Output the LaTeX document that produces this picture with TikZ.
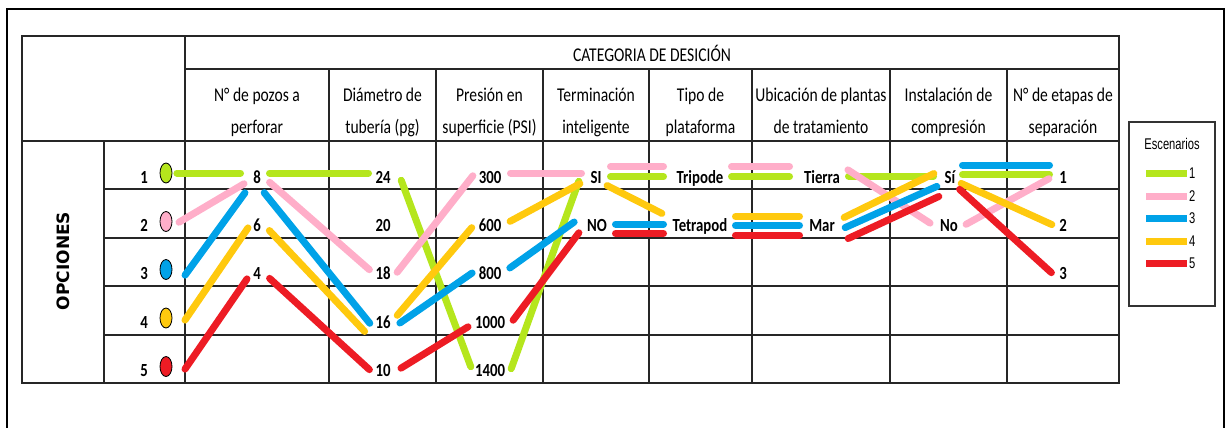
\documentclass[tikz,border=0pt]{standalone}
\usepackage{fontspec}
\setmainfont[FakeStretch=0.8]{Carlito}
\newfontfamily\opcfont{DejaVu Sans}
\newfontfamily\legfont[FakeStretch=0.72]{Liberation Sans}
\usetikzlibrary{calc,shapes.geometric}
\definecolor{cA}{HTML}{B5E61D}
\definecolor{cB}{HTML}{FFAEC9}
\definecolor{cC}{HTML}{00A2E8}
\definecolor{cD}{HTML}{FFC90E}
\definecolor{cE}{HTML}{ED1C24}
\newcommand\cnx[5]{\draw[#1] ($(#2)+(#3)$) -- ($(#4)+(#5)$);}
\begin{document}
\begin{tikzpicture}[x=1pt,y=-1pt,
  grid/.style={line width=1.2pt,black!85},
  val/.style={font=\fontsize{18.5}{20}\selectfont\bfseries,inner sep=0pt,anchor=base},
  hdr/.style={font=\fontsize{19.5}{22}\selectfont,inner sep=0pt,anchor=base},
  con/.style={line width=7pt,line cap=round,shorten <=3.5pt,shorten >=3.5pt},
  ga/.style={con,draw=cA}, gb/.style={con,draw=cB}, gc/.style={con,draw=cC},
  gd/.style={con,draw=cD}, ge/.style={con,draw=cE},
  ell/.style={ellipse,draw=black,line width=0.8pt,minimum width=12pt,minimum height=20pt,inner sep=0pt},
  leg/.style={font=\legfont\fontsize{15.5}{17}\selectfont,inner sep=0pt},
  legline/.style={line width=7pt}]
\useasboundingbox (0,0) rectangle (1226,428);
% outer frame
\draw[line width=1.2pt] (7,428) -- (7,9) -- (1224,9) -- (1224,428);
% table grid
\draw[line width=1.5pt,black!85] (22,36) rectangle (1119,383);
\draw[grid] (185,36) -- (185,383);
\draw[grid] (185,69) -- (1119,69);
\draw[grid] (22,141) -- (1119,141);
\draw[grid] (104,141) -- (104,383);
\foreach \yy in {189,238,286,335} {\draw[grid] (104,\yy) -- (1119,\yy);}
\foreach \xx in {329,436,543,649,752,890,1007} {\draw[grid] (\xx,69) -- (\xx,383);}
% headers
\node[hdr] (cat) at (652,61.5) {CATEGORIA DE DESICIÓN};
\node[hdr] (h1a) at (257,101.7) {N° de pozos a};
\node[hdr] (h1b) at (257,133.5) {perforar};
\node[hdr] (h2a) at (382.5,101.7) {Diámetro de};
\node[hdr] (h2b) at (382.5,133.5) {tubería (pg)};
\node[hdr] (h3a) at (489.5,101.7) {Presión en};
\node[hdr] (h3b) at (489.5,133.5) {superficie (PSI)};
\node[hdr] (h4a) at (596,101.7) {Terminación};
\node[hdr] (h4b) at (596,133.5) {inteligente};
\node[hdr] (h5a) at (700.5,101.7) {Tipo de};
\node[hdr] (h5b) at (700.5,133.5) {plataforma};
\node[hdr] (h6a) at (821,101.7) {Ubicación de plantas};
\node[hdr] (h6b) at (821,133.5) {de tratamiento};
\node[hdr] (h7a) at (948.5,101.7) {Instalación de};
\node[hdr] (h7b) at (948.5,133.5) {compresión};
\node[hdr] (h8a) at (1063,101.7) {N° de etapas de};
\node[hdr] (h8b) at (1063,133.5) {separación};
% options
\node[rotate=90,font=\opcfont\bfseries\fontsize{17}{19}\selectfont,inner sep=0pt] (opc) at (63,261) {OPCIONES};
\node[val] (o1) at (144,183) {1};
\node[val] (o2) at (144,231.5) {2};
\node[val] (o3) at (144,279.5) {3};
\node[val] (o4) at (144,328) {4};
\node[val] (o5) at (144,376.5) {5};
\node[ell,fill=cA] (e1) at (166,173) {};
\node[ell,fill=cB] (e2) at (166,221.5) {};
\node[ell,fill=cC] (e3) at (166,269.5) {};
\node[ell,fill=cD] (e4) at (166,318) {};
\node[ell,fill=cE] (e5) at (166,366.5) {};
% values
\node[val] (p8) at (257,183) {8};
\node[val] (p6) at (257,231.5) {6};
\node[val] (p4) at (257,279.5) {4};
\node[val] (d24) at (383,183) {24};
\node[val] (d20) at (383,231.5) {20};
\node[val] (d18) at (383,279.5) {18};
\node[val] (d16) at (383,328) {16};
\node[val] (d10) at (383,376.5) {10};
\node[val] (s300) at (490,183) {300};
\node[val] (s600) at (490,231.5) {600};
\node[val] (s800) at (490,279.5) {800};
\node[val] (s1000) at (490,328) {1000};
\node[val] (s1400) at (490,376.5) {1400};
\node[val] (tSI) at (596,183) {SI};
\node[val] (tNO) at (597,231.5) {NO};
\node[val] (pTri) at (700,183) {Tripode};
\node[val] (pTet) at (700,231.5) {Tetrapod};
\node[val] (uTie) at (822,183) {Tierra};
\node[val] (uMar) at (822,231.5) {Mar};
\node[val] (iSi) at (950,183) {Sí};
\node[val] (iNo) at (949,231.5) {No};
\node[val] (n1) at (1063,183) {1};
\node[val] (n2) at (1063,231.5) {2};
\node[val] (n3) at (1063,279.5) {3};
% scenario 1 (green)
\cnx{ga}{e1.east}{1,0}{p8.base}{-13,-10}
\cnx{ga}{p8.base}{9,-10}{d24.base}{-11,-10}
\cnx{ga}{d24.base}{17,-6}{s1400.base}{-18,-6.5}
\cnx{ga}{s1400.base}{20,-4.5}{tSI.base}{-16,-5}
\cnx{ga}{tSI.base}{11,-6.3}{pTri.base}{-33,-6.3}
\cnx{ga}{pTri.base}{28,-6.3}{uTie.base}{-29,-6.3}
\cnx{ga}{uTie.base}{23,-7}{iSi.base}{-13,-7}
\cnx{ga}{iSi.base}{9,-8.5}{n1.base}{-10,-8.5}
% scenario 2 (pink)
\cnx{gb}{e2.center}{10,2.5}{p8.base}{-10,-1}
\cnx{gb}{p8.base}{10,-3}{d18.base}{-11,-7.5}
\cnx{gb}{d18.base}{12,-4.5}{s300.base}{-15,-10}
\cnx{gb}{s300.base}{17,-10}{tSI.base}{-11,-10}
\cnx{gb}{tSI.base}{11,-16.3}{pTri.base}{-33,-16.3}
\cnx{gb}{pTri.base}{28,-16.3}{uTie.base}{-29,-16.3}
\cnx{gb}{uTie.base}{23,-15}{iNo.base}{-16,-6.5}
\cnx{gb}{iNo.base}{14,-5.5}{n1.base}{-11,-6}
% scenario 3 (blue)
\cnx{gc}{e3.center}{17,8.5}{p8.base}{-10,7}
\cnx{gc}{p8.base}{5,7}{d16.base}{-11,-2}
\cnx{gc}{d16.base}{14,-3}{s800.base}{-15,-8.5}
\cnx{gc}{s800.base}{17,-9.5}{tNO.base}{-20,-11.5}
\cnx{gc}{tNO.base}{15,-7.5}{pTet.base}{-33,-7.5}
\cnx{gc}{pTet.base}{32,-6}{uMar.base}{-19,-6}
\cnx{gc}{uMar.base}{20,-2.5}{iSi.base}{-10,2}
\cnx{gc}{iSi.base}{9,-18}{n1.base}{-10,-18}
% scenario 4 (yellow)
\cnx{gd}{e4.center}{17,5}{p6.base}{-7,-6.5}
\cnx{gd}{p6.base}{10,-3.5}{d16.base}{-16,6}
\cnx{gd}{d16.base}{12,-10}{s600.base}{-16,-6.5}
\cnx{gd}{s600.base}{17,-8.5}{tSI.base}{-13,-1}
\cnx{gd}{tSI.base}{8,1}{pTet.base}{-35,-16.5}
\cnx{gd}{pTet.base}{32,-15}{uMar.base}{-19,-15}
\cnx{gd}{uMar.base}{19,-12.5}{iSi.base}{-13,-11}
\cnx{gd}{iSi.base}{8,-1}{n2.base}{-8,-5.5}
% scenario 5 (red)
\cnx{ge}{e5.center}{17,5.5}{p4.base}{-8,-3.5}
\cnx{ge}{p4.base}{10,-3.5}{d10.base}{-11,-4.5}
\cnx{ge}{d10.base}{15,-6.5}{s1000.base}{-19,-3}
\cnx{ge}{s1000.base}{21,-5}{tNO.base}{-16,-1.5}
\cnx{ge}{tNO.base}{15,2}{pTet.base}{-33,2}
\cnx{ge}{pTet.base}{32,3.5}{uMar.base}{-19,3.5}
\cnx{ge}{uMar.base}{23,8.5}{iSi.base}{-8,12}
\cnx{ge}{iSi.base}{7,4}{n3.base}{-9,-4.5}
% legend
\draw[line width=1.3pt,black!80] (1129,122) rectangle (1215,306);
\node[leg] (lgt) at (1172,144) {Escenarios};
\draw[legline,cA] (1146,173) -- (1187,173);
\draw[legline,cB] (1146,196) -- (1187,196);
\draw[legline,cC] (1146,218.5) -- (1187,218.5);
\draw[legline,cD] (1146,241) -- (1187,241);
\draw[legline,cE] (1146,263.5) -- (1187,263.5);
\node[leg,anchor=west] (lg1) at (1189,173) {1};
\node[leg,anchor=west] (lg2) at (1189,196) {2};
\node[leg,anchor=west] (lg3) at (1189,218.5) {3};
\node[leg,anchor=west] (lg4) at (1189,241) {4};
\node[leg,anchor=west] (lg5) at (1189,263.5) {5};
\end{tikzpicture}
\end{document}
